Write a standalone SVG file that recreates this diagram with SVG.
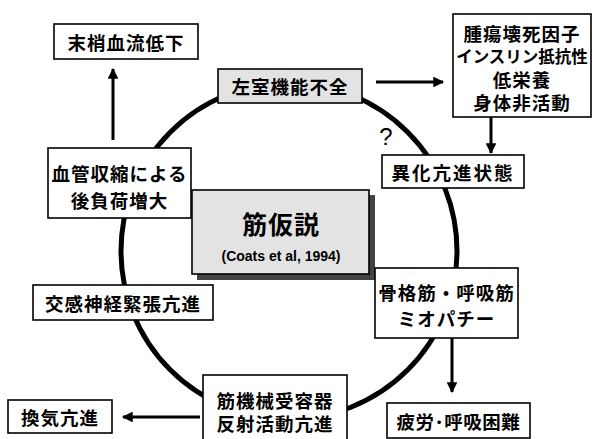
<svg xmlns="http://www.w3.org/2000/svg" width="592" height="439" viewBox="0 0 592 439">
<defs>
<style>
.box{fill:#fff;stroke:#000;stroke-width:1.6}
.gray{fill:#e3e3e3;stroke:#000;stroke-width:1.6}
.t{font-family:"Noto Sans CJK JP","Noto Sans CJK SC",sans-serif;font-weight:700;font-size:18.5px;letter-spacing:1px;fill:#000;text-anchor:middle;dominant-baseline:central}
.arr{stroke:#000;stroke-width:3;fill:none;marker-end:url(#ah)}
</style>
<marker id="ah" viewBox="0 0 10 10" refX="9" refY="5" markerWidth="4" markerHeight="3.6" orient="auto" markerUnits="strokeWidth">
<path d="M0,0 L10,5 L0,10 Z" fill="#000"/>
</marker>
</defs>
<rect width="592" height="439" fill="#fff"/>
<g id="cycle">
<circle cx="289" cy="251" r="168" fill="none" stroke="#000" stroke-width="5"/>
</g>
<g id="connectors">
<line class="arr" x1="113" y1="140" x2="113" y2="69"/>
<line class="arr" x1="376" y1="82" x2="443" y2="82"/>
<line class="arr" x1="491" y1="117" x2="491" y2="153"/>
<line class="arr" x1="200" y1="417" x2="123" y2="417"/>
<line class="arr" x1="452" y1="338" x2="452" y2="392"/>
</g>
<g id="n-matsusho">
<rect class="box" x="54" y="24" width="144" height="35"/>
<text class="t" x="126" y="42">末梢血流低下</text>
</g>
<g id="n-sashitsu">
<rect class="gray" x="218" y="69" width="144" height="34"/>
<text class="t" x="290" y="86">左室機能不全</text>
</g>
<g id="n-shuyo">
<rect class="box" x="453" y="14" width="138" height="103"/>
<text class="t" x="522" y="33">腫瘍壊死因子</text>
<text class="t" x="522" y="56" style="font-size:16.5px;letter-spacing:0">インスリン抵抗性</text>
<text class="t" x="522" y="79">低栄養</text>
<text class="t" x="522" y="102">身体非活動</text>
</g>
<g id="n-question">
<text x="386" y="145" font-family="Liberation Sans, sans-serif" font-size="24" text-anchor="middle" fill="#000">?</text>
</g>
<g id="n-ika">
<rect class="box" x="382" y="155" width="142" height="33"/>
<text class="t" x="453" y="172" style="letter-spacing:2px">異化亢進状態</text>
</g>
<g id="n-kekkan">
<rect class="box" x="48" y="148" width="143" height="70"/>
<text class="t" x="119.5" y="173">血管収縮による</text>
<text class="t" x="119.5" y="200">後負荷増大</text>
</g>
<g id="n-kinkasetsu">
<rect x="197" y="195" width="178" height="85" fill="#444"/>
<rect class="gray" x="192" y="190" width="177" height="84"/>
<text class="t" x="281" y="223" style="font-size:25px;letter-spacing:1px">筋仮説</text>
<text x="281" y="256" font-family="Liberation Sans, Arial, sans-serif" font-weight="700" font-size="14" text-anchor="middle" dominant-baseline="central" fill="#000">(Coats et al, 1994)</text>
</g>
<g id="n-kousin">
<rect class="box" x="33" y="285" width="180" height="35"/>
<text class="t" x="123" y="302.5">交感神経緊張亢進</text>
</g>
<g id="n-kokkaku">
<rect class="box" x="375" y="268" width="143" height="70"/>
<text class="t" x="446.5" y="292">骨格筋・呼吸筋</text>
<text class="t" x="446.5" y="318">ミオパチー</text>
</g>
<g id="n-kinkikai">
<rect class="box" x="203" y="375" width="144" height="66"/>
<text class="t" x="275" y="400">筋機械受容器</text>
<text class="t" x="275" y="423">反射活動亢進</text>
</g>
<g id="n-kanki">
<rect class="box" x="8" y="400" width="104" height="33"/>
<text class="t" x="60" y="416.5">換気亢進</text>
</g>
<g id="n-hirou">
<rect class="box" x="387" y="403" width="143" height="35"/>
<text class="t" x="458.5" y="420.5" style="letter-spacing:0.5px">疲労･呼吸困難</text>
</g>
</svg>
